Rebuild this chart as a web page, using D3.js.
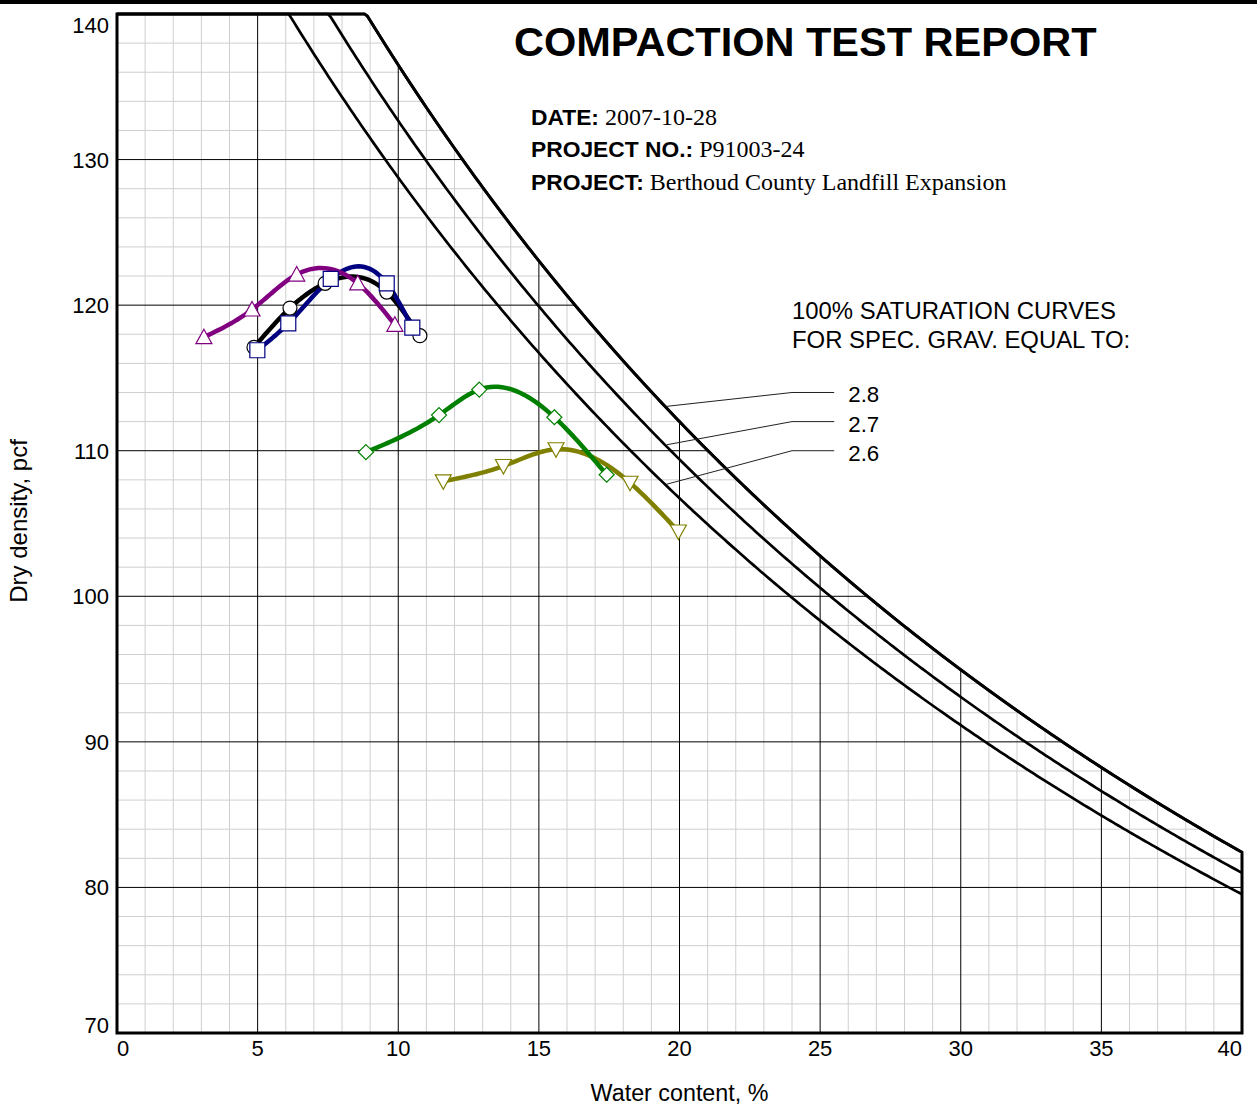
<!DOCTYPE html>
<html lang="en">
<head>
<meta charset="UTF-8">
<title>Compaction Test Report</title>
<script src="https://cdn.jsdelivr.net/npm/d3@7"></script>
<style>
    body { margin: 0; background: #fff; }
    svg { display: block; font-family: "Liberation Sans", Arial, sans-serif; }
</style>
</head>
<body>
<script type="text/javascript">
    var width = 1257;
    var height = 1115;

    // axis ticks
    var xTicks = [0, 5, 10, 15, 20, 25, 30, 35, 40];
    var yTicks = [70, 80, 90, 100, 110, 120, 130, 140];

    // zero air voids curves
    var specGravity = [2.8, 2.7, 2.6];
    var gammaWater = 62.4;
    var zavLabelDensity = [114, 112, 110];

    // test points (water content %, dry density pcf)
    var circleW = [4.87, 6.15, 7.40, 9.59, 10.77];
    var circleD = [117.1, 119.8, 121.5, 120.9, 117.9];
    var squareW = [4.99, 6.09, 7.60, 9.59, 10.50];
    var squareD = [116.9, 118.75, 121.8, 121.5, 118.45];
    var triW = [3.09, 4.80, 6.39, 8.56, 9.88];
    var triD = [117.8, 119.7, 122.1, 121.5, 118.65];
    var diamondW = [8.85, 11.45, 12.88, 15.55, 17.41];
    var diamondD = [109.9, 112.45, 114.2, 112.3, 108.35];
    var invTriW = [11.60, 13.74, 15.61, 18.24, 19.96];
    var invTriD = [107.9, 108.95, 110.1, 107.8, 104.45];

    var x = d3.scaleLinear().domain([0, 40]).range([117, 1242]);
    var y = d3.scaleLinear().domain([70, 140]).range([1033, 14]);

    var svg = d3.select('body').append('svg')
            .attr('width', width)
            .attr('height', height);

    svg.append('rect').attr('x', 0).attr('y', 0).attr('width', width).attr('height', 4).attr('fill', '#000');

    function zav(gs, w) {
        return Math.min(140, gs * gammaWater / (1 + w * gs / 100));
    }
    function zavPoints(gs) {
        var pts = [];
        for (var w = 0; w <= 40.001; w += 0.1) pts.push([w, zav(gs, w)]);
        return pts;
    }

    // natural cubic spline of density against water content
    function splinePoints(xs, ys) {
        var n = xs.length, h = [], m = new Array(n).fill(0);
        for (var i = 0; i < n - 1; i++) h.push(xs[i + 1] - xs[i]);
        var a = [], b = [], c = [], r = [];
        for (i = 1; i < n - 1; i++) {
            a.push(h[i - 1]);
            b.push(2 * (h[i - 1] + h[i]));
            c.push(h[i]);
            r.push(6 * ((ys[i + 1] - ys[i]) / h[i] - (ys[i] - ys[i - 1]) / h[i - 1]));
        }
        var k = r.length;
        for (i = 1; i < k; i++) {
            var f = a[i] / b[i - 1];
            b[i] -= f * c[i - 1];
            r[i] -= f * r[i - 1];
        }
        for (i = k - 1; i >= 0; i--) {
            m[i + 1] = (r[i] - (i < k - 1 ? c[i] * m[i + 2] : 0)) / b[i];
        }
        var pts = [];
        for (i = 0; i < n - 1; i++) {
            for (var j = 0; j < 20; j++) {
                var t = xs[i] + h[i] * j / 20;
                var p = xs[i + 1] - t, q = t - xs[i];
                pts.push([t, m[i] * p * p * p / (6 * h[i]) + m[i + 1] * q * q * q / (6 * h[i]) +
                        (ys[i] / h[i] - m[i] * h[i] / 6) * p + (ys[i + 1] / h[i] - m[i + 1] * h[i] / 6) * q]);
            }
        }
        pts.push([xs[n - 1], ys[n - 1]]);
        return pts;
    }

    var line = d3.line()
            .x(function (d) { return x(d[0]); })
            .y(function (d) { return y(d[1]); });

    // region below the top curve
    var region = [[0, 70]].concat(zavPoints(specGravity[0])).concat([[40, 70]]);
    svg.append('clipPath').attr('id', 'below')
            .append('path').attr('d', line(region) + 'Z');

    var grid = svg.append('g').attr('clip-path', 'url(#below)');
    grid.selectAll('.minorX')
            .data(d3.range(1, 40).filter(function (v) { return v % 5 !== 0; }))
            .enter().append('line')
            .attr('x1', x).attr('x2', x).attr('y1', y(70)).attr('y2', y(140))
            .attr('stroke', '#cfcfcf').attr('stroke-width', 1);
    grid.selectAll('.minorY')
            .data(d3.range(72, 140, 2).filter(function (v) { return v % 10 !== 0; }))
            .enter().append('line')
            .attr('x1', x(0)).attr('x2', x(40)).attr('y1', y).attr('y2', y)
            .attr('stroke', '#cfcfcf').attr('stroke-width', 1);
    grid.selectAll('.majorX')
            .data(xTicks)
            .enter().append('line')
            .attr('x1', x).attr('x2', x).attr('y1', y(70)).attr('y2', y(140))
            .attr('stroke', '#000').attr('stroke-width', 1);
    grid.selectAll('.majorY')
            .data(yTicks)
            .enter().append('line')
            .attr('x1', x(0)).attr('x2', x(40)).attr('y1', y).attr('y2', y)
            .attr('stroke', '#000').attr('stroke-width', 1);

    // saturation curves
    svg.selectAll('.zav')
            .data(specGravity)
            .enter().append('path')
            .attr('d', function (gs) { return line(zavPoints(gs)); })
            .attr('fill', 'none').attr('stroke', '#000').attr('stroke-width', 2.7);

    svg.append('path')
            .attr('d', line(region) + 'Z')
            .attr('fill', 'none').attr('stroke', '#000').attr('stroke-width', 3);

    // leaders and labels
    specGravity.forEach(function (gs, i) {
        var ly = zavLabelDensity[i];
        svg.append('polyline')
                .attr('points', [[x(19.55), y(zav(gs, 19.55)) - 2], [x(24), y(ly)], [x(25.5), y(ly)]].join(' '))
                .attr('fill', 'none').attr('stroke', '#222').attr('stroke-width', 1);
        svg.append('text')
                .attr('x', x(26)).attr('y', y(ly) + 10)
                .attr('font-size', 22.3)
                .text(gs.toFixed(1));
    });
    svg.append('text').attr('x', x(24)).attr('y', 319).attr('font-size', 23.9)
            .text('100% SATURATION CURVES');
    svg.append('text').attr('x', x(24)).attr('y', 348).attr('font-size', 23.9)
            .text('FOR SPEC. GRAV. EQUAL TO:');

    // compaction curves
    var series = [
        {w: invTriW, d: invTriD, color: '#808000', shape: 'M-8,-6.5L8,-6.5L0,8Z'},
        {w: diamondW, d: diamondD, color: '#008000', shape: 'M0,-7.5L7.5,0L0,7.5L-7.5,0Z'},
        {w: circleW, d: circleD, color: '#000000', shape: 'M-7,0A7,7 0 1,0 7,0A7,7 0 1,0 -7,0Z'},
        {w: squareW, d: squareD, color: '#000080', shape: 'M-7.5,-7.5L7.5,-7.5L7.5,7.5L-7.5,7.5Z'},
        {w: triW, d: triD, color: '#800080', shape: 'M0,-8L8,6.5L-8,6.5Z'}
    ];
    series.forEach(function (s) {
        svg.append('path')
                .attr('d', line(splinePoints(s.w, s.d)))
                .attr('fill', 'none').attr('stroke', s.color)
                .attr('stroke-width', 4.5).attr('stroke-linecap', 'round');
    });
    series.forEach(function (s) {
        svg.selectAll(null)
                .data(d3.zip(s.w, s.d))
                .enter().append('path')
                .attr('d', s.shape)
                .attr('transform', function (d) { return 'translate(' + x(d[0]) + ',' + y(d[1]) + ')'; })
                .attr('fill', '#fff').attr('stroke', s.color).attr('stroke-width', 1.2);
    });

    // tick labels
    svg.selectAll('.xLabel')
            .data(xTicks)
            .enter().append('text')
            .attr('x', x).attr('y', 1056)
            .attr('font-size', 22)
            .attr('text-anchor', function (d) { return d === 0 ? 'start' : (d === 40 ? 'end' : 'middle'); })
            .text(function (d) { return d; });
    svg.selectAll('.yLabel')
            .data(yTicks)
            .enter().append('text')
            .attr('x', 109)
            .attr('y', function (d) {
                if (d === 70) return y(d);
                if (d === 140) return y(d) + 19;
                return y(d) + 8;
            })
            .attr('font-size', 22)
            .attr('text-anchor', 'end')
            .text(function (d) { return d; });

    svg.append('text')
            .attr('transform', 'translate(27,521) rotate(-90)')
            .attr('text-anchor', 'middle')
            .attr('font-size', 24)
            .text('Dry density, pcf');
    svg.append('text')
            .attr('x', x(20)).attr('y', 1101)
            .attr('text-anchor', 'middle')
            .attr('font-size', 23.3)
            .text('Water content, %');

    // header
    svg.append('text')
            .attr('x', 514).attr('y', 56)
            .attr('font-size', 41.5).attr('font-weight', 'bold')
            .text('COMPACTION TEST REPORT');
    var info = [['DATE:', '2007-10-28'], ['PROJECT NO.:', 'P91003-24'], ['PROJECT:', 'Berthoud County Landfill Expansion']];
    var infoY = [125, 157, 190];
    info.forEach(function (row, i) {
        var t = svg.append('text').attr('x', 531).attr('y', infoY[i]);
        t.append('tspan').attr('font-size', 22.8).attr('font-weight', 'bold').text(row[0]);
        t.append('tspan').attr('font-size', 24)
                .attr('font-family', '"Liberation Serif", "Times New Roman", serif')
                .text(' ' + row[1]);
    });
</script>
</body>
</html>
